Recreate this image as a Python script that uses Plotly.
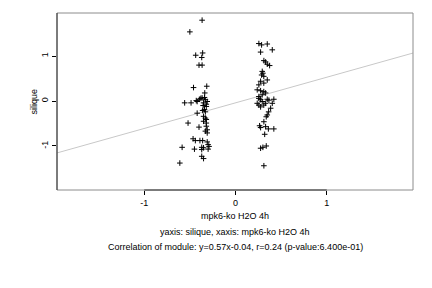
import plotly.graph_objects as go

# cluster 1 (left group) and cluster 2 (right group)
x1 = [-0.366, -0.50, -0.436, -0.36, -0.37, -0.40, -0.366, -0.46, -0.315, -0.337,
      -0.557, -0.487, -0.42, -0.396, -0.366, -0.33, -0.31, -0.35, -0.32, -0.355, -0.32,
      -0.43, -0.38, -0.34,
      -0.42, -0.36, -0.34, -0.33, -0.35, -0.33, -0.32, -0.35, -0.32,
      -0.52, -0.40, -0.32, -0.31, -0.33, -0.31,
      -0.465, -0.44, -0.39, -0.36, -0.31, -0.30,
      -0.585, -0.45, -0.37, -0.35, -0.30, -0.29, -0.37,
      -0.37, -0.35, -0.61]
y1 = [1.80, 1.54, 1.02, 1.07, 0.97, 0.80, 0.80, 0.30, 0.33, 0.18,
      -0.04, -0.04, -0.01, 0.04, 0.07, 0.03, -0.01, -0.04, -0.07, -0.10, -0.12,
      0.01, 0.06, 0.08,
      -0.27, -0.21, -0.19, -0.24, -0.34, -0.38, -0.41, -0.45, -0.49,
      -0.49, -0.58, -0.56, -0.64, -0.67, -0.71,
      -0.84, -0.88, -0.88, -0.88, -0.91, -0.97,
      -1.03, -1.07, -1.03, -1.04, -1.07, -1.01, -1.08,
      -1.23, -1.28, -1.38]

x2 = [0.256, 0.286, 0.348, 0.403, 0.275,
      0.311, 0.33, 0.348, 0.374,
      0.293, 0.30, 0.286, 0.31, 0.348, 0.275, 0.31, 0.256,
      0.238, 0.275, 0.31, 0.33, 0.293, 0.256,
      0.256, 0.275, 0.293, 0.238, 0.256, 0.275, 0.31, 0.33, 0.366, 0.42, 0.403, 0.348,
      0.385, 0.363, 0.348, 0.337,
      0.311,
      0.264, 0.275, 0.33, 0.36, 0.42,
      0.32,
      0.275, 0.30, 0.337,
      0.311]
y2 = [1.28, 1.25, 1.27, 1.14, 1.09,
      0.90, 0.87, 0.82, 0.79,
      0.66, 0.62, 0.58, 0.55, 0.47, 0.44, 0.40, 0.36,
      0.25, 0.23, 0.21, 0.18, 0.14, 0.10,
      0.06, 0.03, -0.01, -0.05, -0.09, -0.13, -0.09, -0.05, 0.02, 0.04, -0.05, 0.04,
      -0.16, -0.24, -0.31, -0.35,
      -0.46,
      -0.55, -0.59, -0.57, -0.62, -0.62,
      -0.74,
      -1.05, -1.03, -1.00,
      -1.44]

slope, intercept = 0.57, -0.04
x_range = [-1.956, 1.945]
y_range = [-1.98, 1.96]
tick_vals = [-1, 0, 1]
tick_text = ["-1", "0", "1"]

x_title = "mpk6-ko H2O 4h"
y_title = "silique"
sub1 = "yaxis: silique, xaxis: mpk6-ko H2O 4h"
sub2 = "Correlation of module: y=0.57x-0.04, r=0.24 (p-value:6.400e-01)"

font = dict(family="Liberation Sans, Arial, sans-serif", size=9, color="black")

fig = go.Figure()
fig.add_trace(go.Scatter(
    x=x_range, y=[slope * v + intercept for v in x_range],
    mode="lines", line=dict(color="#c8c8c8", width=1), hoverinfo="skip"))
fig.add_trace(go.Scatter(
    x=x1 + x2, y=y1 + y2, mode="markers",
    marker=dict(symbol="cross-thin", size=4, line=dict(color="black", width=1), color="black")))

fig.update_layout(
    width=432, height=288, showlegend=False,
    margin=dict(l=57, r=19, t=13, b=98),
    paper_bgcolor="white", plot_bgcolor="white", font=font,
    xaxis=dict(range=x_range, tickvals=tick_vals, ticktext=tick_text, ticks="outside",
               ticklen=4, tickcolor="black", showgrid=False, zeroline=False, showline=False),
    yaxis=dict(range=y_range, tickvals=tick_vals, ticktext=tick_text, ticks="outside",
               ticklen=4, tickcolor="black", tickangle=-90, showgrid=False,
               zeroline=False, showline=False),
    shapes=[
        dict(type="rect", xref="paper", yref="paper", x0=0, x1=1, y0=0, y1=1,
             line=dict(color="#8c8c8c", width=1)),
        dict(type="line", xref="paper", yref="paper", x0=0, x1=0, y0=0, y1=1,
             line=dict(color="#333333", width=1)),
        dict(type="line", xref="x", yref="paper", x0=tick_vals[0], x1=tick_vals[-1], y0=0, y1=0,
             line=dict(color="#333333", width=1)),
    ],
    annotations=[
        dict(text=x_title, xref="paper", yref="paper", x=0.5, y=0, yshift=-26,
             showarrow=False, yanchor="middle", font=font),
        dict(text=y_title, xref="paper", yref="paper", x=0, y=0.5, xshift=-24,
             showarrow=False, xanchor="center", textangle=-90, font=font),
        dict(text=sub1, xref="paper", yref="paper", x=0.5, y=0, yshift=-42,
             showarrow=False, yanchor="middle", font=font),
        dict(text=sub2, xref="paper", yref="paper", x=0.5, y=0, yshift=-57,
             showarrow=False, yanchor="middle", font=font),
    ],
)

fig.write_html("out.html")
